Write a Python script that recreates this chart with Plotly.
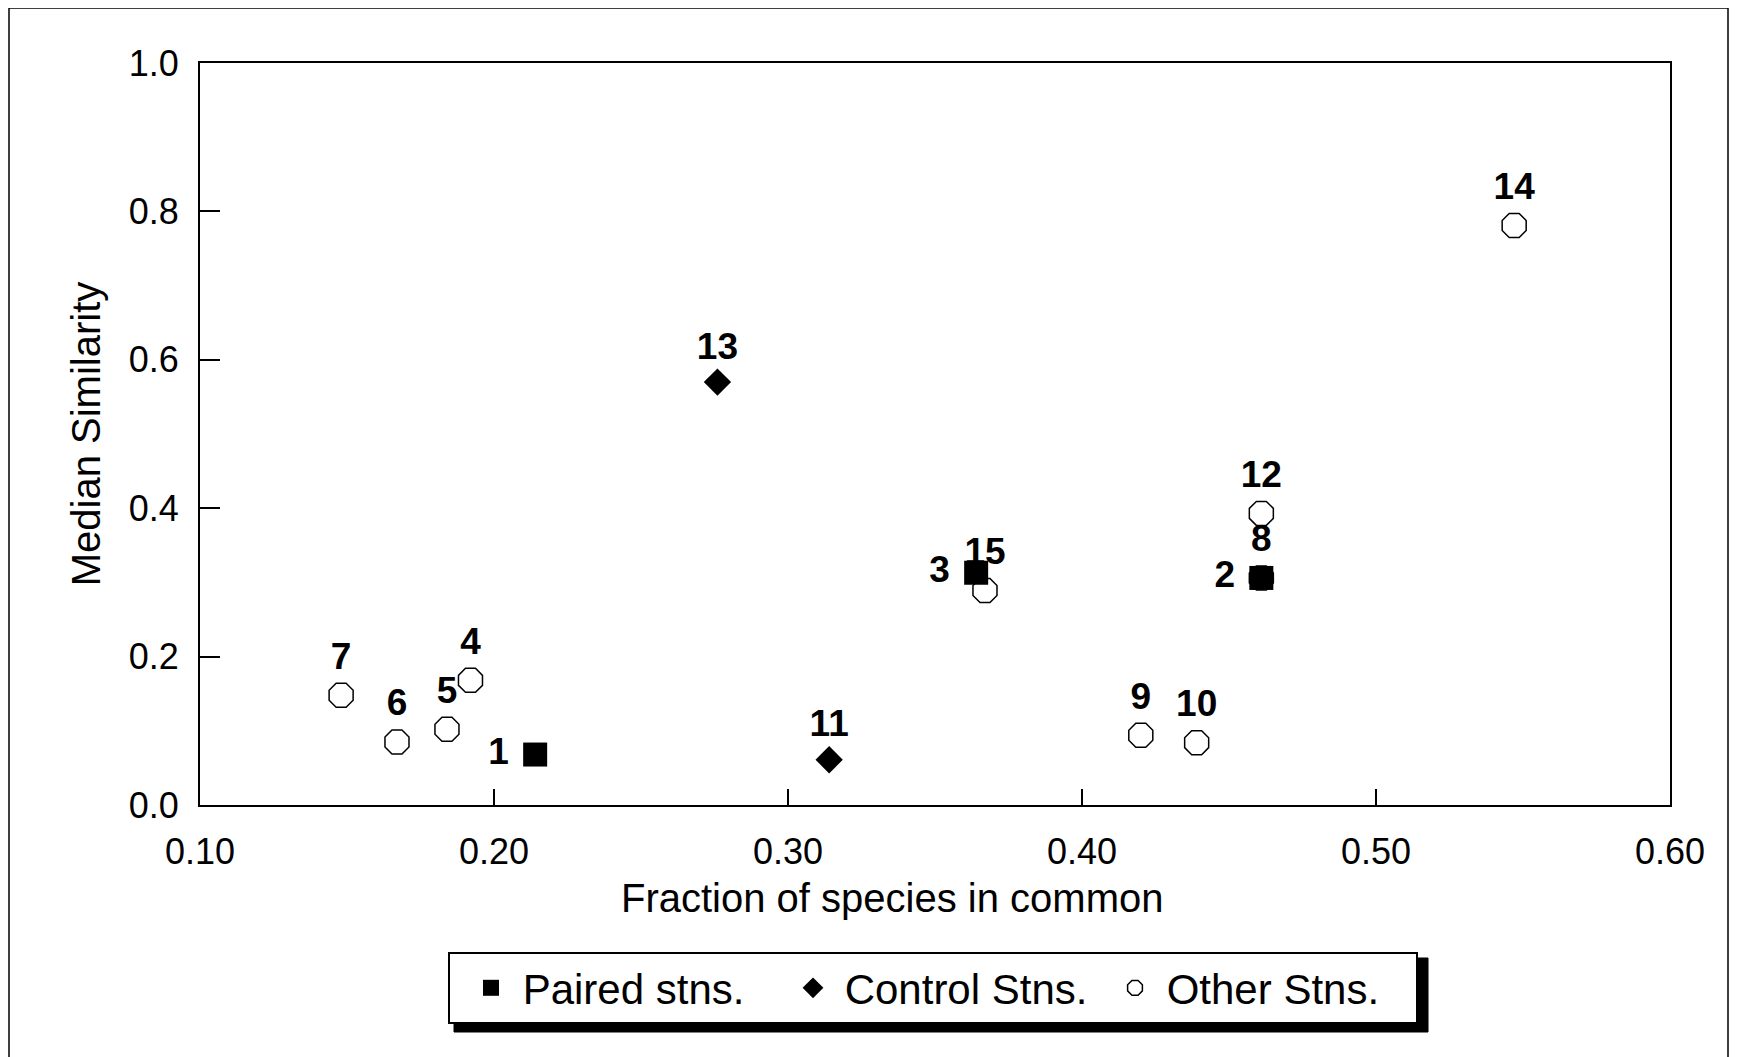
import plotly.graph_objects as go

# Paired stations (squares)
paired_x = [0.214, 0.461, 0.364]
paired_y = [0.068, 0.306, 0.313]
paired_lbl = ["1\u00a0", "2\u00a0", "3\u00a0"]

# Control stations (diamonds)
control_x = [0.314, 0.276]
control_y = [0.061, 0.570]
control_lbl = ["11", "13"]

# Other stations (open circles)
other_x = [0.192, 0.184, 0.167, 0.148, 0.461, 0.420, 0.439, 0.461, 0.547, 0.367]
other_y = [0.168, 0.102, 0.085, 0.148, 0.306, 0.094, 0.084, 0.393, 0.781, 0.289]
other_lbl = ["4", "5", "6", "7", "8", "9", "10", "12", "14", "15"]

x_ticks = [0.1, 0.2, 0.3, 0.4, 0.5, 0.6]
y_ticks = [0.0, 0.2, 0.4, 0.6, 0.8, 1.0]

FONT = "Liberation Sans, Arial, sans-serif"
LBL_FONT = dict(size=37, color="black", family=FONT, weight="bold")

fig = go.Figure()

fig.add_trace(go.Scatter(
    x=other_x, y=other_y, text=other_lbl, mode="markers+text",
    name="\u00a0Other Stns.", legendrank=3,
    textposition="top center", textfont=LBL_FONT,
    marker=dict(symbol="octagon-open", size=26, color="black", line=dict(width=1.5, color="black")),
))
fig.add_trace(go.Scatter(
    x=paired_x, y=paired_y, text=paired_lbl, mode="markers+text",
    name="\u00a0Paired stns.", legendrank=1,
    textposition="middle left", textfont=LBL_FONT,
    marker=dict(symbol="square", size=24, color="black"),
))
fig.add_trace(go.Scatter(
    x=control_x, y=control_y, text=control_lbl, mode="markers+text",
    name="\u00a0Control Stns.", legendrank=2,
    textposition="top center", textfont=LBL_FONT,
    marker=dict(symbol="diamond", size=21, color="black"),
))

# figure-coordinate frame (page has an 8px body offset)
W, H = 1742, 1057
L, R, T, B = 192, 80, 55, 260
pw, ph = W - L - R, H - T - B

def px(xp):
    return (xp - L) / pw

def py(yp):
    return (H - B - yp) / ph

# outer frame
fig.add_shape(type="rect", xref="paper", yref="paper",
              x0=px(1), x1=px(1720), y0=py(1080), y1=py(0),
              line=dict(color="black", width=1.5), layer="below")
# legend shadow
fig.add_shape(type="rect", xref="paper", yref="paper",
              x0=px(446), x1=px(1420), y0=py(1024), y1=py(950),
              line=dict(color="black", width=1), fillcolor="black", layer="above")

# x-axis title (placed left of centre as in the original)
fig.add_annotation(text="Fraction of species in common", xref="paper", yref="paper",
                   x=px(884), y=py(890), xanchor="center", yanchor="middle",
                   showarrow=False, font=dict(size=40, family=FONT, color="black"))

fig.update_layout(
    width=W, height=H,
    margin=dict(l=L, r=R, t=T, b=B, autoexpand=False),
    paper_bgcolor="white", plot_bgcolor="white",
    font=dict(family=FONT, size=36, color="black"),
    showlegend=True,
    legend=dict(
        orientation="h", x=px(440), y=py(944), xanchor="left", yanchor="top",
        bgcolor="white", bordercolor="black", borderwidth=2,
        font=dict(size=42, family=FONT, color="black"),
        itemsizing="trace", entrywidth=256, entrywidthmode="pixels",
        indentation=21,
    ),
    xaxis=dict(
        range=[0.1, 0.6], tickvals=x_ticks, tickformat=".2f",
        showgrid=False, zeroline=False, showline=True, linecolor="black", linewidth=2,
        mirror=True, ticks="inside", ticklen=16, tickcolor="black", tickwidth=1.5,
        ticklabelstandoff=14,
        tickfont=dict(size=36, family=FONT),
        automargin=False,
    ),
    yaxis=dict(
        range=[0.0, 1.0], tickvals=y_ticks, tickformat=".1f",
        showgrid=False, zeroline=False, showline=True, linecolor="black", linewidth=2,
        mirror=True, ticks="inside", ticklen=20, tickcolor="black", tickwidth=1.5,
        ticklabelstandoff=12,
        tickfont=dict(size=36, family=FONT),
        title=dict(text="Median Similarity", font=dict(size=40, family=FONT), standoff=16),
        automargin=False,
    ),
)

fig.write_html("out.html")
